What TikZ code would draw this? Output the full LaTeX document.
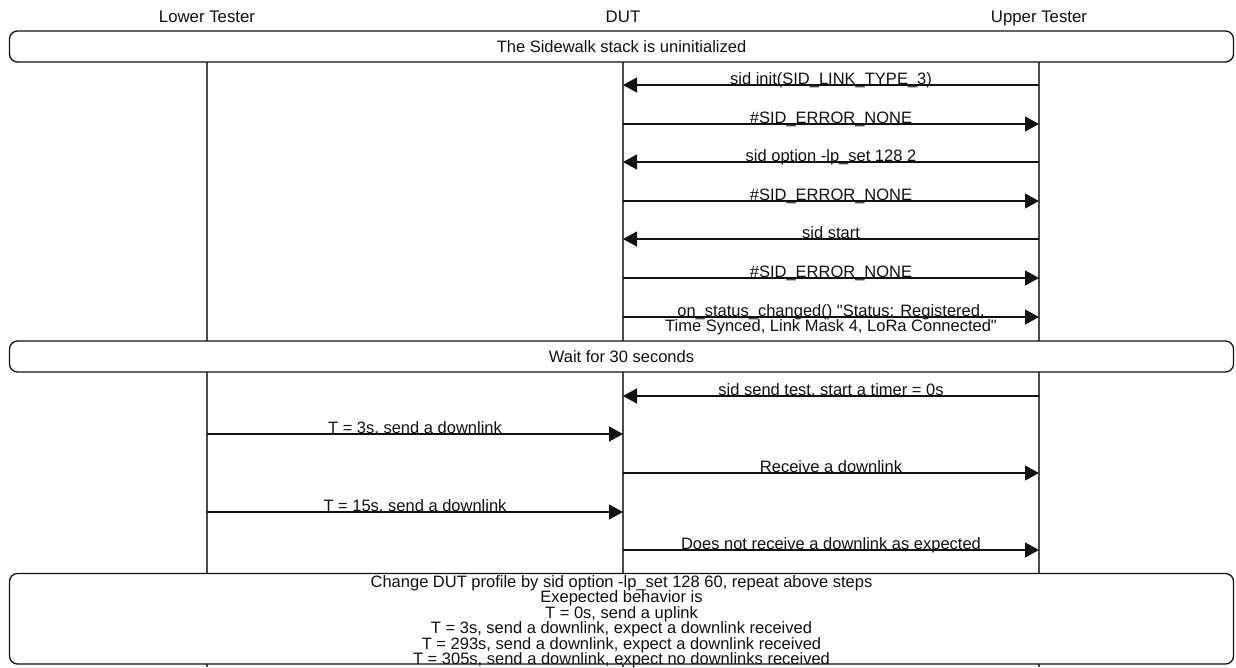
\documentclass[tikz,border=0pt]{standalone}
\usepackage{fontspec}
\setmainfont{Liberation Sans}
\usepackage{tikz}
\usetikzlibrary{arrows.meta,positioning}
\definecolor{Ink}{HTML}{111111}
\definecolor{Rule}{HTML}{4A4A4A}
\tikzset{
  actor/.style={font=\fontsize{16.8}{15.5}\selectfont,text=Ink,inner sep=0pt},
  life/.style={draw=Rule,line width=1.3pt},
  banner/.style={
    rounded corners=8pt,draw=Ink,line width=1.3pt,fill=white,
    minimum width=1224pt,inner sep=0pt,
    font=\fontsize{16.5}{15.5}\selectfont,text=Ink,align=center
  },
  notetext/.style={inner sep=0pt,
    font=\fontsize{16.5}{15.5}\selectfont,text=Ink,align=center},
  msg/.style={-{Triangle[length=14pt,width=15pt]},line width=1.2pt,draw=Ink},
  lbl/.style={midway,anchor=base,yshift=0.8pt,inner sep=0pt,
    font=\fontsize{16.5}{15.5}\selectfont,text=Ink,align=center}
}
\begin{document}
\begin{tikzpicture}[x=1pt,y=-1pt]
  \useasboundingbox (0,0) rectangle (1236,667);
  % header row
  \node[actor,anchor=base] (lower) at (207,22.5) {Lower Tester};
  \node[actor,anchor=base] (dut) at (623,22.5) {DUT};
  \node[actor,anchor=base] (upper) at (1039,22.5) {Upper Tester};
  % lifelines, the banners sit on top of them
  \foreach \who in {lower,dut,upper}
    \draw[life] (\who |- 0,62) -- (\who |- 0,667);
  % one coordinate per lifeline for every message row
  \foreach \row/\y in {a/85,b/124,c/162,d/201,e/239,f/278,g/317,
                       h/396,i/434,j/473,k/512,l/550}{
    \coordinate (lo-\row) at (lower |- 0,\y);
    \coordinate (du-\row) at (dut |- 0,\y);
    \coordinate (up-\row) at (upper |- 0,\y);
  }
  % banners
  \node[banner,minimum height=31pt] (uninit) at (621.5,46.5)
    {The Sidewalk stack is uninitialized};
  \node[banner,minimum height=31pt] (wait) at (621.5,356.5)
    {Wait for 30 seconds};
  \node[banner,minimum height=90.5pt] (wrapup) at (621.5,618.75) {};
  \node[notetext] (steps) at ([yshift=-3pt]wrapup.center)
    {Change DUT profile by sid option -lp\_set 128 60, repeat above steps\\
     Exepected behavior is\\
     T = 0s, send a uplink\\
     T = 3s, send a downlink, expect a downlink received\\
     T = 293s, send a downlink, expect a downlink received\\
     T = 305s, send a downlink, expect no downlinks received};
  % setup
  \draw[msg] (up-a) -- node[lbl] {sid init(SID\_LINK\_TYPE\_3)} (du-a);
  \draw[msg] (du-b) -- node[lbl] {\#SID\_ERROR\_NONE} (up-b);
  \draw[msg] (up-c) -- node[lbl] {sid option -lp\_set 128 2} (du-c);
  \draw[msg] (du-d) -- node[lbl] {\#SID\_ERROR\_NONE} (up-d);
  \draw[msg] (up-e) -- node[lbl] {sid start} (du-e);
  \draw[msg] (du-f) -- node[lbl] {\#SID\_ERROR\_NONE} (up-f);
  \draw[msg] (du-g) -- node[lbl,yshift=-15.5pt]
    {on\_status\_changed() \textquotedbl Status: Registered,\\
     Time Synced, Link Mask 4, LoRa Connected\textquotedbl} (up-g);
  % timed downlinks
  \draw[msg] (up-h) -- node[lbl] {sid send test, start a timer = 0s} (du-h);
  \draw[msg] (lo-i) -- node[lbl] {T = 3s, send a downlink} (du-i);
  \draw[msg] (du-j) -- node[lbl] {Receive a downlink} (up-j);
  \draw[msg] (lo-k) -- node[lbl] {T = 15s, send a downlink} (du-k);
  \draw[msg] (du-l) -- node[lbl] {Does not receive a downlink as expected} (up-l);
\end{tikzpicture}
\end{document}
